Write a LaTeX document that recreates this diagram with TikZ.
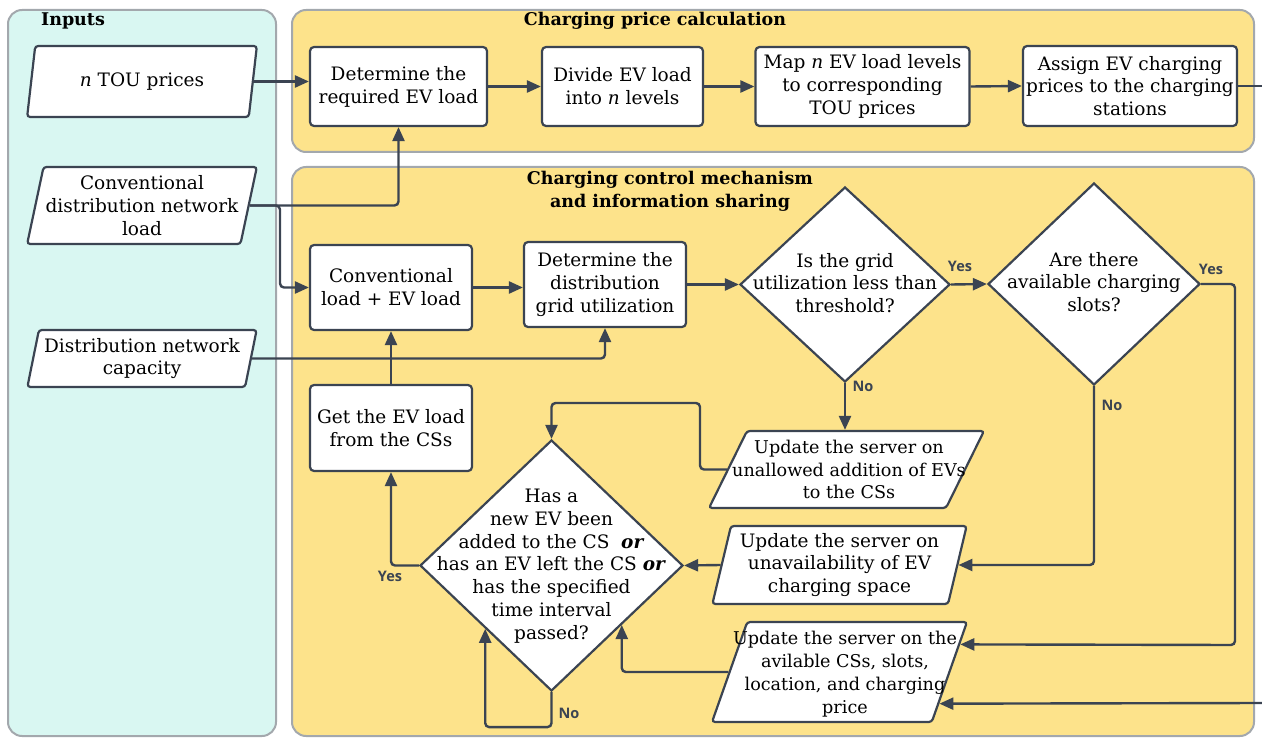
\documentclass[tikz,border=0pt]{standalone}
\usepackage{fontspec}
\setmainfont{DejaVu Serif}
\newfontfamily\lblfont{Open Sans}
\usetikzlibrary{shapes.geometric,arrows.meta,calc}
\definecolor{dk}{HTML}{3B4452}
\definecolor{cyanbg}{HTML}{D9F7F2}
\definecolor{yelbg}{HTML}{FDE38B}
\definecolor{panelline}{HTML}{A3A8AD}
\begin{document}
\begin{tikzpicture}[x=1pt,y=-1pt,
 nfont/.style={font=\fontsize{18.5}{22.8}\selectfont},
 sfont/.style={font=\fontsize{17.6}{22.8}\selectfont},
 box/.style={draw=dk,line width=2.2pt,fill=white,rounded corners=4pt,align=center,inner sep=0pt,nfont},
 para/.style={trapezium,trapezium left angle=75,trapezium right angle=105,trapezium stretches=true,draw=dk,line width=2.2pt,fill=white,rounded corners=3pt,align=center,inner sep=0pt,nfont},
 dia/.style={diamond,draw=dk,line width=2.2pt,fill=white,inner sep=0pt},
 dtext/.style={align=center,inner sep=0pt,nfont},
 panel/.style={draw=panelline,line width=2pt,rounded corners=14pt},
 ttl/.style={font=\bfseries\fontsize{17.5}{23}\selectfont,align=center,inner sep=0pt},
 conn/.style={draw=dk,line width=2.4pt,rounded corners=4pt,-{Triangle[length=14pt,width=12pt]}},
 plain/.style={draw=dk,line width=2.4pt,rounded corners=4pt},
 lbl/.style={font=\lblfont\bfseries\fontsize{14.5}{16}\selectfont,text=dk,inner sep=0pt}
]
\useasboundingbox (0,0) rectangle (1262,738);
% panels
\draw[panel,fill=cyanbg] (8,10) rectangle (276,736);
\draw[panel,fill=yelbg] (292,10) rectangle (1254,152);
\draw[panel,fill=yelbg] (292,167) rectangle (1254,736);
\node[ttl] (tin) at (73,21) {Inputs};
\node[ttl] (tpr) at (655,21) {Charging price calculation};
\node[ttl] (tcc) at (670,191) {Charging control mechanism\\and information sharing};
% inputs
\node[para,minimum width=230,minimum height=71] (tou) at (142,81.5) {\textit{n} TOU prices};
\node[para,minimum width=230,minimum height=77] (cdl) at (142,205.5) {Conventional\\distribution network\\load};
\node[para,minimum width=230,minimum height=57] (cap) at (142,358.5) {Distribution network\\capacity};
% price calc
\node[box,minimum width=177,minimum height=79] (req) at (398.5,86.5) {Determine the\\required EV load};
\node[box,minimum width=161,minimum height=79] (div) at (622.5,86.5) {Divide EV load\\into \textit{n} levels};
\node[box,minimum width=214,minimum height=79] (map) at (862.5,86.5) {Map \textit{n} EV load levels\\to corresponding\\TOU prices};
\node[box,minimum width=214,minimum height=80] (asg) at (1130,86) {Assign EV charging\\prices to the charging\\stations};
% control
\node[box,minimum width=162,minimum height=85] (cpl) at (391,287.5) {Conventional\\load + EV load};
\node[box,minimum width=162,minimum height=85] (dgu) at (605,284.5) {Determine the\\distribution\\grid utilization};
\node[box,minimum width=162,minimum height=86] (get) at (391,428) {Get the EV load\\from the CSs};
\node[dia,minimum width=210,minimum height=195] (d1) at (845,284.5) {};
\node[dtext] (d1t) at (845,283) {Is the grid\\utilization less than\\threshold?};
\node[dia,minimum width=212,minimum height=202] (d2) at (1094,284) {};
\node[dtext] (d2t) at (1094,282) {Are there\\available charging\\slots?};
\node[dia,minimum width=263,minimum height=251] (d3) at (551.5,565.5) {};
\node[dtext] (d3t) at (551.5,566) {Has a\\new EV been\\added to the CS~ \textbf{\textit{or}}\\has an EV left the CS \textbf{\textit{or}}\\has the specified\\time interval\\passed?};
\node[para,minimum width=275,minimum height=77] (una) at (846.5,469.5) {\phantom{M}};
\node[dtext,sfont] (unat) at (849,469.5) {Update the server on\\unallowed addition of EVs\\to the CSs};
\node[para,minimum width=255,minimum height=78] (unv) at (839.5,565) {Update the server on\\unavailability of EV\\charging space};
\node[para,minimum width=255,minimum height=100] (ava) at (839.5,672) {\phantom{M}};
\node[dtext,sfont] (avat) at (845,674) {Update the server on the\\avilable CSs, slots,\\location, and charging\\price};
% coordinates
\coordinate (br) at (280,287.5);
\coordinate (ul) at (700,403);
\coordinate (ry) at (1235,645);
\coordinate (d3r) at ($(d3.east)!0.47!(d3.south)$);
\coordinate (d3l) at ($(d3.west)!0.5!(d3.south)$);
\coordinate (rx1) at (1262,86);
\coordinate (rx2) at (1262,703);
% connectors
\draw[conn] (tou.east) -- (tou.east -| req.west);
\draw[conn] (cdl.east) -| (req.south);
\draw[conn] (cdl.east) -| (br) -- (cpl.west);
\draw[conn] (cap.east) -| (dgu.south);
\draw[conn] (get.north) -- (cpl.south);
\draw[conn] (req.east) -- (div.west);
\draw[conn] (div.east) -- (map.west);
\draw[conn] (map.east) -- (asg.west);
\draw[plain] (asg.east) -- (rx1);
\draw[conn] (cpl.east) -- (cpl.east -| dgu.west);
\draw[conn] (dgu.east) -- (d1.west);
\draw[conn] (d1.east) -- (d2.west);
\draw[conn] (d1.south) -- (d1.south |- una.north);
\draw[conn] (d2.east) -| (ry) -- ($(ava.top right corner)!0.23!(ava.bottom right corner)$);
\draw[conn] (d2.south) |- (unv.east);
\draw[conn] (una.west) -| (ul) -| (d3.north);
\draw[conn] (unv.west) -- (d3.east);
\draw[conn] (ava.west) -| (d3r);
\draw[conn] (d3.west) -| (get.south);
\draw[conn] (d3.south) -- ++(0,35) -| (d3l);
\draw[conn] (rx2) -- ($(ava.top right corner)!0.81!(ava.bottom right corner)$);
% labels
\node[lbl] (y1) at (960,266) {Yes};
\node[lbl] (n1) at (863,386) {No};
\node[lbl] (y2) at (1211,269) {Yes};
\node[lbl] (n2) at (1112,405) {No};
\node[lbl] (y3) at (390,576) {Yes};
\node[lbl] (n3) at (569,713) {No};
\end{tikzpicture}
\end{document}
